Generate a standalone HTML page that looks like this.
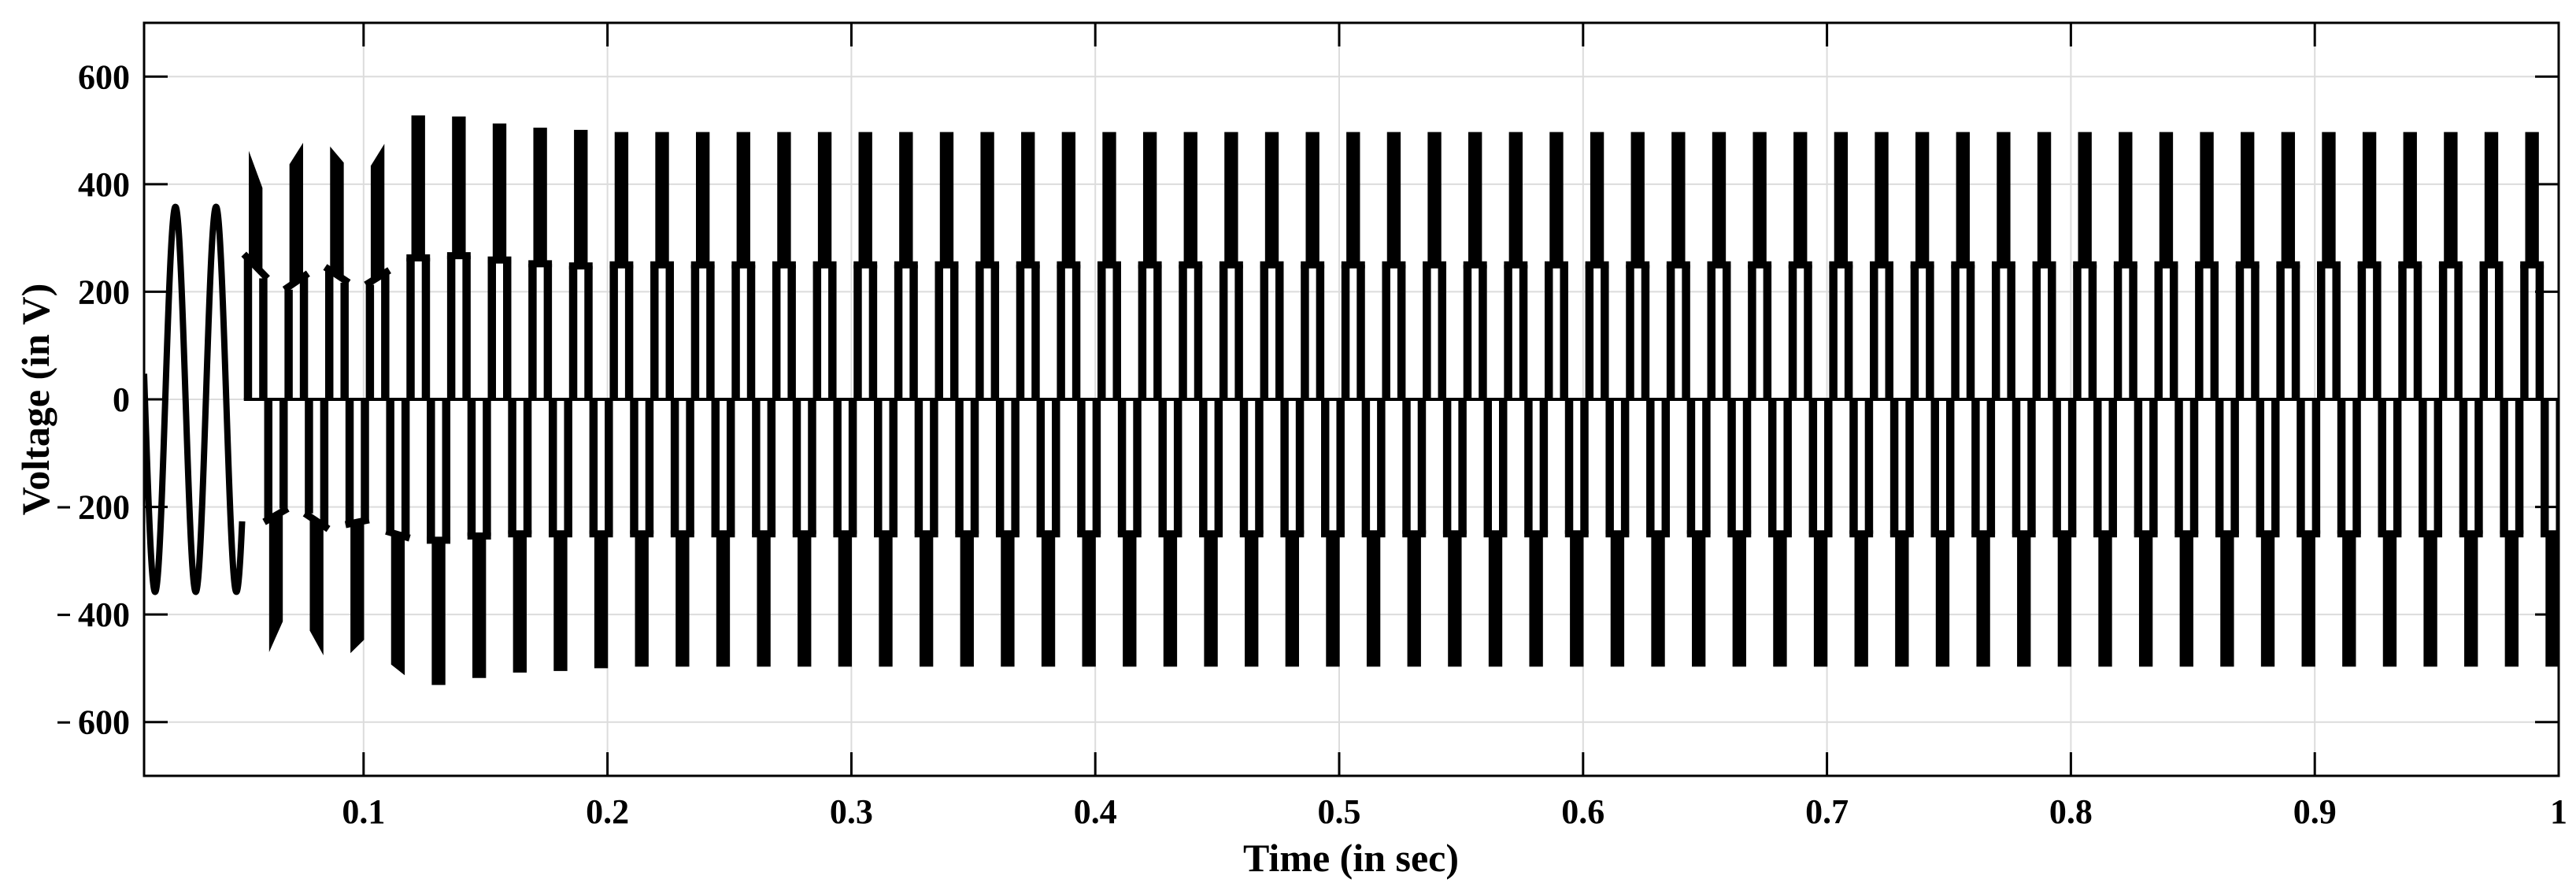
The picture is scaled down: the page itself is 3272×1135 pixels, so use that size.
<!DOCTYPE html>
<html>
<head>
<meta charset="utf-8">
<style>
html,body{margin:0;padding:0;background:#fff;}
svg{display:block;}
text{font-family:"Liberation Serif","DejaVu Serif",serif;font-weight:bold;fill:#000;}
</style>
</head>
<body>
<svg id="chart" width="3272" height="1135" viewBox="0 0 3272 1135" xmlns="http://www.w3.org/2000/svg">
  <rect x="0" y="0" width="3272" height="1135" fill="#fff"/>
  <defs><clipPath id="plotclip"><rect x="183" y="29" width="3067" height="956"/></clipPath></defs>
  <g id="grid"></g>
  <g id="series" clip-path="url(#plotclip)"></g>
  <g id="axes"></g>
  <text x="1716" y="1106" font-size="50" text-anchor="middle">Time (in sec)</text>
  <text x="0" y="0" font-size="50" text-anchor="middle" transform="translate(62,507) rotate(-90)">Voltage (in V)</text>
</svg>
<script>
// ---- data ----
const xTicks = [0.1,0.2,0.3,0.4,0.5,0.6,0.7,0.8,0.9,1];
const xTickLabels = ["0.1","0.2","0.3","0.4","0.5","0.6","0.7","0.8","0.9","1"];
const yTicks = [600,400,200,0,-200,-400,-600];
const yTickLabels = ["600","400","200","0","200","400","600"];
const sineAmp = 358;
const sineFreq = 60;
const sineStart = 0.01;
const sineEnd = 0.0503;
const sineZeroTime = 0.00202;
const firstPulseCenter = 0.05574;
const period = 1/60;
const posPeak = [462,437,470,434,528,526,513,505,501,497,497,497,497,497,497,497,497,497,497,497,497,497,497,497,497,497,497,497,497,497,497,497,497,497,497,497,497,497,497,497,497,497,497,497,497,497,497,497,497,497,497,497,497,497,497,497,497];
const posPeakEnd = [393,477,440,475];
const posMid = [270,204,246,213,263,267,259,252,248,250,250,250,250,250,250,250,250,250,250,250,250,250,250,250,250,250,250,250,250,250,250,250,250,250,250,250,250,250,250,250,250,250,250,250,250,250,250,250,250,250,250,250,250,250,250,250,250];
const posMidEnd = [225,234,217,240];
const negPeak = [-470,-430,-472,-493,-531,-518,-508,-505,-500,-497,-497,-497,-497,-497,-497,-497,-497,-497,-497,-497,-497,-497,-497,-497,-497,-497,-497,-497,-497,-497,-497,-497,-497,-497,-497,-497,-497,-497,-497,-497,-497,-497,-497,-497,-497,-497,-497,-497,-497,-497,-497,-497,-497,-497,-497,-497,-497];
const negPeakEnd = [-413,-476,-447,-513];
const negMid = [-228,-212,-233,-245,-262,-254,-250,-250,-250,-250,-250,-250,-250,-250,-250,-250,-250,-250,-250,-250,-250,-250,-250,-250,-250,-250,-250,-250,-250,-250,-250,-250,-250,-250,-250,-250,-250,-250,-250,-250,-250,-250,-250,-250,-250,-250,-250,-250,-250,-250,-250,-250,-250,-250,-250,-250,-250];
const negMidEnd = [-203,-241,-224,-258];

// ---- axes ----
const L=183,R=3250,T=29,B=985;
const xMin=0.01,xMax=1,yMin=-700,yMax=700;
function X(t){return L+(t-xMin)/(xMax-xMin)*(R-L);}
function Y(v){return B-(v-yMin)/(yMax-yMin)*(B-T);}
const NS="http://www.w3.org/2000/svg";
function mk(tag,attrs,parent){const e=document.createElementNS(NS,tag);for(const k in attrs)e.setAttribute(k,attrs[k]);parent.appendChild(e);return e;}

const grid=document.getElementById('grid');
const axes=document.getElementById('axes');
const series=document.getElementById('series');

xTicks.forEach((t,i)=>{
  const g=mk('line',{x1:X(t),x2:X(t),y1:T,y2:B,stroke:'#dcdcdc','stroke-width':2},grid);
  
  
  const a=mk('line',{x1:X(t),x2:X(t),y1:B,y2:B-30,stroke:'#000','stroke-width':3},axes);
  
  
  const b=mk('line',{x1:X(t),x2:X(t),y1:T,y2:T+30,stroke:'#000','stroke-width':3},axes);
  
  
  const tx=mk('text',{x:X(t),y:1045,'font-size':44,'text-anchor':'middle'},axes);
  tx.textContent=xTickLabels[i];
  
  
});
yTicks.forEach((v,i)=>{
  const g=mk('line',{x1:L,x2:R,y1:Y(v),y2:Y(v),stroke:'#dcdcdc','stroke-width':2},grid);
  
  
  const a=mk('line',{x1:L,x2:L+30,y1:Y(v),y2:Y(v),stroke:'#000','stroke-width':3},axes);
  
  
  const b=mk('line',{x1:R,x2:R-30,y1:Y(v),y2:Y(v),stroke:'#000','stroke-width':3},axes);
  
  
  const tx=mk('text',{x:165,y:Y(v)+15,'font-size':44,'text-anchor':'end'},axes);
  tx.textContent=yTickLabels[i];
  
  
  if(v<0){
    const m=mk('rect',{x:73,y:Y(v)-1,width:16,height:3,fill:'#000'},axes);
    
    
  }
});
const box=mk('rect',{x:L,y:T,width:R-L,height:B-T,fill:'none',stroke:'#000','stroke-width':3},axes);



// ---- sine segment ----
let d='';
for(let t=sineStart;t<=sineEnd;t+=0.0001){
  const v=sineAmp*Math.sin(2*Math.PI*sineFreq*(t-sineZeroTime));
  d+=(d?'L':'M')+X(t).toFixed(2)+' '+Y(v).toFixed(2);
}
const sp=mk('path',{d:d,fill:'none',stroke:'#000','stroke-width':8,'stroke-linejoin':'round'},series);



// ---- zero line of inverter ----
const hwOuter=0.29*period, hwInner=0.087*period, hwBlock=0.168*period;
const z=mk('line',{x1:X(firstPulseCenter-hwOuter),x2:R,y1:Y(0),y2:Y(0),stroke:'#000','stroke-width':4},series);



function half(c,peakA,peakB,midA,midB,name){
  const g=mk('g',{},series);
  
  
  const x0=X(c-hwOuter),x1=X(c-hwInner),x2=X(c+hwInner),x3=X(c+hwOuter);
  const b0=X(c-hwBlock),b1=X(c+hwBlock);
  const y0=Y(0);
  mk('polygon',{points:`${x0},${y0} ${x1},${y0} ${x1},${Y(midA)} ${x0},${Y(midA)}`,fill:'#000'},g);
  mk('polygon',{points:`${x2},${y0} ${x3},${y0} ${x3},${Y(midB)} ${x2},${Y(midB)}`,fill:'#000'},g);
  mk('line',{x1:x0,y1:Y(midA),x2:x3,y2:Y(midB),stroke:'#000','stroke-width':9},g);
  mk('polygon',{points:`${b0},${Y(midA)} ${b0},${Y(peakA)} ${b1},${Y(peakB)} ${b1},${Y(midB)}`,fill:'#000'},g);
}
for(let k=0;k<posPeak.length;k++){
  const c=firstPulseCenter+k*period;
  half(c,posPeak[k],k<posPeakEnd.length?posPeakEnd[k]:posPeak[k],posMid[k],k<posMidEnd.length?posMidEnd[k]:posMid[k],'positive-pulse');
  const cn=c+period/2;
  half(cn,negPeak[k],k<negPeakEnd.length?negPeakEnd[k]:negPeak[k],negMid[k],k<negMidEnd.length?negMidEnd[k]:negMid[k],'negative-pulse');
}
</script>
</body>
</html>
